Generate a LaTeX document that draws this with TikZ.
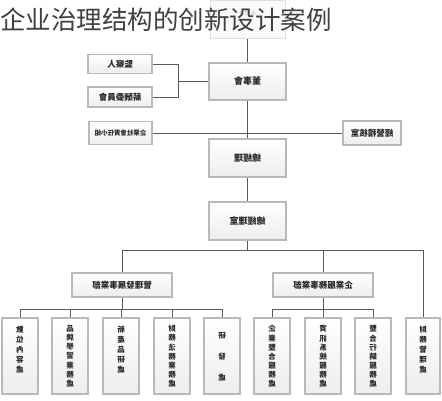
\documentclass[tikz,border=0pt]{standalone}
\usepackage{fontspec}
\usepackage{graphicx}
\newfontfamily\tcfont{Noto Sans CJK TC}
\newfontfamily\scfont{Noto Sans CJK SC}
\newcommand\vcol[1]{\reflectbox{\begin{tabular}{@{}c@{}}#1\end{tabular}}}
\begin{document}
\begin{tikzpicture}[x=1pt,y=-1pt,
  box/.style={draw=gray!55, line width=1.5pt, top color=white, bottom color=gray!14,
    inner sep=0pt, font=\tcfont\bfseries\fontsize{8.5}{10}\selectfont, text=black!85},
  conn/.style={draw=black!65, line width=0.7pt},
  vt/.style={inner sep=0pt, align=center, font=\tcfont\bfseries\fontsize{7.5}{9}\selectfont, text=black!85},
  bbox/.style={box, minimum width=36pt, minimum height=76pt}]
\useasboundingbox (0,0) rectangle (442,400);
% ghost box behind the title
\node[draw=gray!25, line width=1pt, fill=gray!4, minimum width=75pt, minimum height=38pt] (gh) at (247.5,19) {};
\node[text=gray!45, inner sep=0pt, font=\tcfont\fontsize{5.5}{6}\selectfont] (ght) at (247.5,13) {\reflectbox{股東會}};
\node[anchor=west, inner sep=0pt, font=\scfont\fontsize{25.5}{28}\selectfont, text=black!75] (title) at (0,20) {企业治理结构的创新设计案例};
% upper part
\node[box, minimum width=77pt, minimum height=37pt, font=\tcfont\bfseries\fontsize{9}{10}\selectfont] (dsh) at (247.5,81.5) {\reflectbox{董事會}};
\node[box, minimum width=64pt, minimum height=19pt] (jcr) at (120,64) {\reflectbox{監察人}};
\node[box, minimum width=64pt, minimum height=20pt] (xcw) at (120,97) {\reflectbox{薪酬委員會}};
\node[box, minimum width=63pt, minimum height=23pt, font=\tcfont\bfseries\fontsize{6.5}{8}\selectfont] (csr) at (120.5,133) {\reflectbox{企業社會責任小組}};
\node[box, minimum width=58pt, minimum height=24pt] (audit) at (372,133) {\reflectbox{經營稽核室}};
\node[box, minimum width=77pt, minimum height=38pt, font=\tcfont\bfseries\fontsize{9}{10}\selectfont] (gm) at (247.5,158) {\reflectbox{總經理}};
\node[box, minimum width=77pt, minimum height=38pt, font=\tcfont\bfseries\fontsize{9}{10}\selectfont] (gmo) at (247.5,221) {\reflectbox{總經理室}};
\node[box, minimum width=100pt, minimum height=24pt] (depL) at (122,285) {\reflectbox{管理發展事業部}};
\node[box, minimum width=100pt, minimum height=24pt] (depR) at (323,285) {\reflectbox{企業服務事業部}};
% bottom boxes
\node[bbox] (b1) at (20,356) {};
\node[bbox] (b2) at (70,356) {};
\node[bbox] (b3) at (121,356) {};
\node[bbox] (b4) at (172,356) {};
\node[bbox] (b5) at (222,356) {};
\node[bbox] (b6) at (272,356) {};
\node[bbox] (b7) at (323,356) {};
\node[bbox] (b8) at (373,356) {};
\node[bbox, minimum width=34pt] (b9) at (423,356) {};
\node[vt, anchor=north, font=\tcfont\bfseries\fontsize{7.5}{10}\selectfont] (t1) at ([yshift=-8pt]b1.north) {\vcol{數\\位\\內\\容\\處}};
\node[vt, anchor=north] (t2) at ([yshift=-8pt]b2.north) {\vcol{品\\牌\\學\\習\\業\\務\\處}};
\node[vt, anchor=north, font=\tcfont\bfseries\fontsize{7.5}{10}\selectfont] (t3) at ([yshift=-8pt]b3.north) {\vcol{新\\產\\品\\研\\處}};
\node[vt, anchor=north] (t4) at ([yshift=-8pt]b4.north) {\vcol{財\\務\\法\\務\\業\\務\\處}};
\node[vt, anchor=north, font=\tcfont\bfseries\fontsize{7.5}{21}\selectfont] (t5) at ([yshift=-6pt]b5.north) {\vcol{研\\發\\處}};
\node[vt, anchor=north] (t6) at ([yshift=-8pt]b6.north) {\vcol{企\\業\\整\\合\\服\\務\\處}};
\node[vt, anchor=north] (t7) at ([yshift=-8pt]b7.north) {\vcol{資\\訊\\系\\統\\服\\務\\處}};
\node[vt, anchor=north] (t8) at ([yshift=-8pt]b8.north) {\vcol{整\\合\\行\\銷\\服\\務\\處}};
\node[vt, anchor=north, font=\tcfont\bfseries\fontsize{7.5}{10}\selectfont] (t9) at ([yshift=-8pt]b9.north) {\vcol{財\\務\\管\\理\\處}};
% connectors
\coordinate (jn) at (178,81);
\coordinate (h1) at (247.5,250);
\coordinate (h2) at (0,309);
\draw[conn] (gh.south) -- (dsh.north);
\draw[conn] (jcr.east) -| (jn);
\draw[conn] (xcw.east) -| (jn);
\draw[conn] (jn) -- (dsh.west |- jn);
\draw[conn] (dsh.south) -- (gm.north);
\draw[conn] (csr.east) -- (audit.west);
\draw[conn] (gm.south) -- (gmo.north);
\draw[conn] (gmo.south) -- (h1);
\draw[conn] (depL.north) -- (depL.north |- h1) -- (b9.north |- h1) -- (b9.north);
\draw[conn] (depR.north) -- (depR.north |- h1);
\draw[conn] (depL.south) -- (depL.south |- h2);
\draw[conn] (b1.north) -- (b1.north |- h2) -- (b5.north |- h2) -- (b5.north);
\foreach \n in {b2,b3,b4} \draw[conn] (\n.north) -- (\n.north |- h2);
\draw[conn] (depR.south) -- (depR.south |- h2);
\draw[conn] (b6.north) -- (b6.north |- h2) -- (b8.north |- h2) -- (b8.north);
\draw[conn] (b7.north) -- (b7.north |- h2);
\end{tikzpicture}
\end{document}
